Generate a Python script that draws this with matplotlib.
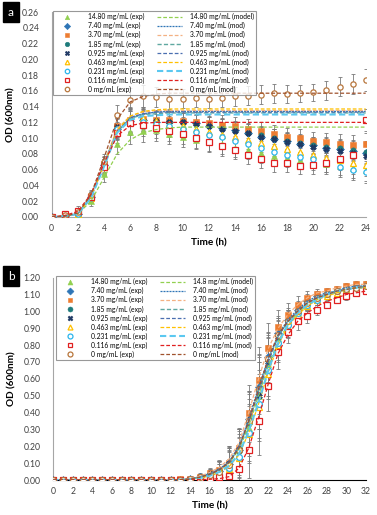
import matplotlib
matplotlib.use("Agg")
import matplotlib.pyplot as plt
import numpy as np

plt.rcParams['font.family'] = ['Lato', 'DejaVu Sans']

# ---------------- Panel a data (t = 0..24 h) ----------------
time_a = list(range(0, 25))
a_exp_1480 = [0.000,0.001,0.003,0.020,0.055,0.093,0.108,0.109,0.110,0.105,0.101,0.098,0.096,0.092,0.088,0.085,0.081,0.078,0.075,0.072,0.070,0.067,0.065,0.062,0.060]
a_exp_740  = [0.000,0.001,0.004,0.026,0.066,0.112,0.122,0.123,0.121,0.121,0.120,0.119,0.116,0.113,0.110,0.107,0.102,0.099,0.096,0.093,0.091,0.088,0.086,0.084,0.081]
a_exp_370  = [0.000,0.002,0.005,0.027,0.067,0.115,0.123,0.124,0.123,0.123,0.122,0.121,0.119,0.117,0.115,0.112,0.109,0.105,0.102,0.100,0.097,0.095,0.093,0.091,0.092]
a_exp_185  = [0.000,0.001,0.004,0.025,0.064,0.113,0.122,0.122,0.121,0.120,0.120,0.118,0.115,0.112,0.109,0.106,0.104,0.100,0.097,0.094,0.091,0.089,0.087,0.085,0.083]
a_exp_0925 = [0.000,0.001,0.004,0.026,0.066,0.114,0.123,0.123,0.122,0.121,0.120,0.118,0.115,0.112,0.109,0.106,0.102,0.099,0.095,0.092,0.089,0.086,0.084,0.081,0.077]
a_exp_0463 = [0.000,0.001,0.004,0.024,0.064,0.112,0.124,0.125,0.122,0.118,0.115,0.111,0.108,0.104,0.101,0.098,0.094,0.090,0.086,0.083,0.079,0.075,0.072,0.068,0.066]
a_exp_0231 = [0.000,0.001,0.004,0.024,0.063,0.111,0.121,0.120,0.118,0.115,0.112,0.108,0.104,0.101,0.097,0.093,0.088,0.083,0.079,0.076,0.073,0.069,0.063,0.060,0.057]
a_exp_0116 = [0.000,0.004,0.008,0.026,0.063,0.107,0.119,0.117,0.113,0.109,0.105,0.100,0.095,0.090,0.085,0.079,0.074,0.069,0.068,0.065,0.066,0.069,0.073,0.079,0.123]
a_exp_0    = [0.000,0.003,0.006,0.028,0.070,0.129,0.149,0.154,0.152,0.150,0.150,0.151,0.150,0.151,0.153,0.154,0.155,0.157,0.156,0.157,0.158,0.161,0.165,0.169,0.174]
a_err      = [0.002,0.004,0.006,0.006,0.010,0.013,0.015,0.014,0.013,0.013,0.012,0.012,0.012,0.012,0.012,0.012,0.012,0.012,0.011,0.011,0.011,0.012,0.012,0.013,0.014]

a_mod_1480 = [0.000,0.001,0.004,0.020,0.050,0.080,0.098,0.107,0.111,0.113,0.114,0.114,0.114,0.114,0.114,0.114,0.114,0.114,0.114,0.114,0.114,0.114,0.114,0.114,0.114]
a_mod_740  = [0.000,0.001,0.004,0.026,0.068,0.110,0.126,0.131,0.133,0.134,0.134,0.134,0.134,0.134,0.134,0.134,0.134,0.134,0.134,0.134,0.134,0.134,0.134,0.134,0.134]
a_mod_370  = [0.000,0.001,0.005,0.027,0.069,0.112,0.128,0.133,0.135,0.135,0.135,0.135,0.135,0.135,0.135,0.135,0.135,0.135,0.135,0.135,0.135,0.135,0.135,0.135,0.135]
a_mod_185  = [0.000,0.001,0.004,0.025,0.066,0.108,0.125,0.130,0.131,0.132,0.132,0.132,0.132,0.132,0.132,0.132,0.132,0.132,0.132,0.132,0.132,0.132,0.132,0.132,0.132]
a_mod_0925 = [0.000,0.001,0.004,0.026,0.067,0.109,0.126,0.131,0.133,0.133,0.133,0.133,0.133,0.133,0.133,0.133,0.133,0.133,0.133,0.133,0.133,0.133,0.133,0.133,0.133]
a_mod_0463 = [0.000,0.001,0.004,0.025,0.066,0.110,0.128,0.134,0.136,0.137,0.137,0.137,0.137,0.137,0.137,0.137,0.137,0.137,0.137,0.137,0.137,0.137,0.137,0.137,0.137]
a_mod_0231 = [0.000,0.001,0.004,0.024,0.064,0.107,0.123,0.128,0.129,0.130,0.130,0.130,0.130,0.130,0.130,0.130,0.130,0.130,0.130,0.130,0.130,0.130,0.130,0.130,0.130]
a_mod_0116 = [0.000,0.002,0.007,0.029,0.068,0.103,0.116,0.119,0.120,0.120,0.120,0.120,0.120,0.120,0.120,0.120,0.120,0.120,0.120,0.120,0.120,0.120,0.120,0.120,0.120]
a_mod_0    = [0.000,0.001,0.005,0.028,0.075,0.124,0.146,0.153,0.156,0.157,0.157,0.157,0.157,0.157,0.157,0.157,0.157,0.157,0.157,0.157,0.157,0.157,0.157,0.157,0.157]

# ---------------- Panel b data (t = 0..32 h) ----------------
time_b = list(range(0, 33))
b_exp_1480 = [0,0,0,0,0,0,0,0,0,0,0,0,0,0.002,0.005,0.015,0.028,0.045,0.080,0.150,0.310,0.500,0.690,0.840,0.930,0.990,1.040,1.070,1.100,1.110,1.130,1.140,1.140]
b_exp_740  = [0,0,0,0,0,0,0,0,0,0,0,0,0,0.002,0.006,0.018,0.035,0.055,0.095,0.180,0.360,0.550,0.730,0.870,0.950,1.010,1.060,1.090,1.110,1.120,1.140,1.150,1.150]
b_exp_370  = [0,0,0,0,0,0,0,0,0,0,0,0,0,0.003,0.008,0.020,0.040,0.060,0.100,0.190,0.395,0.590,0.780,0.910,0.980,1.040,1.080,1.100,1.120,1.130,1.150,1.160,1.160]
b_exp_185  = [0,0,0,0,0,0,0,0,0,0,0,0,0,0.002,0.005,0.016,0.030,0.050,0.090,0.170,0.340,0.530,0.710,0.860,0.940,1.000,1.050,1.080,1.100,1.120,1.130,1.140,1.150]
b_exp_0925 = [0,0,0,0,0,0,0,0,0,0,0,0,0,0.002,0.006,0.018,0.035,0.055,0.100,0.185,0.355,0.500,0.700,0.850,0.940,1.000,1.050,1.080,1.100,1.120,1.130,1.140,1.140]
b_exp_0463 = [0,0,0,0,0,0,0,0,0,0,0,0,0,0.001,0.004,0.012,0.025,0.035,0.065,0.130,0.270,0.430,0.630,0.800,0.910,0.980,1.030,1.070,1.090,1.110,1.130,1.140,1.140]
b_exp_0231 = [0,0,0,0,0,0,0,0,0,0,0,0,0,0.001,0.004,0.012,0.022,0.035,0.070,0.135,0.280,0.450,0.650,0.810,0.920,0.990,1.040,1.070,1.100,1.120,1.130,1.140,1.150]
b_exp_0116 = [0,0,0,0,0,0,0,0,0,0,0,0,0,0.000,0.002,0.004,0.008,0.015,0.025,0.068,0.180,0.350,0.557,0.760,0.880,0.940,0.970,1.010,1.040,1.070,1.090,1.110,1.120]
b_exp_0    = [0,0,0,0,0,0,0,0,0,0,0,0,0,0.002,0.005,0.016,0.030,0.050,0.090,0.180,0.350,0.540,0.720,0.860,0.940,1.000,1.050,1.080,1.100,1.120,1.130,1.140,1.150]
b_err      = [0.003,0.003,0.003,0.003,0.003,0.003,0.003,0.003,0.003,0.003,0.003,0.003,0.003,0.005,0.010,0.020,0.030,0.060,0.100,0.120,0.170,0.200,0.150,0.100,0.070,0.050,0.040,0.030,0.020,0.020,0.020,0.020,0.020]

b_mod_1480 = [0,0,0,0,0,0,0,0,0,0,0,0,0,0.002,0.006,0.015,0.030,0.055,0.100,0.180,0.320,0.500,0.680,0.820,0.920,0.990,1.040,1.070,1.100,1.110,1.130,1.140,1.140]
b_mod_740  = [0,0,0,0,0,0,0,0,0,0,0,0,0,0.002,0.007,0.018,0.038,0.065,0.110,0.200,0.360,0.550,0.720,0.860,0.950,1.010,1.060,1.090,1.110,1.120,1.140,1.150,1.150]
b_mod_370  = [0,0,0,0,0,0,0,0,0,0,0,0,0,0.003,0.009,0.022,0.045,0.075,0.125,0.220,0.400,0.600,0.780,0.900,0.980,1.040,1.080,1.110,1.120,1.140,1.150,1.160,1.160]
b_mod_185  = [0,0,0,0,0,0,0,0,0,0,0,0,0,0.002,0.006,0.016,0.033,0.060,0.105,0.190,0.340,0.530,0.710,0.850,0.940,1.000,1.050,1.080,1.100,1.120,1.130,1.140,1.150]
b_mod_0925 = [0,0,0,0,0,0,0,0,0,0,0,0,0,0.002,0.006,0.017,0.035,0.062,0.108,0.195,0.350,0.520,0.700,0.850,0.940,1.000,1.050,1.080,1.100,1.120,1.130,1.140,1.140]
b_mod_0463 = [0,0,0,0,0,0,0,0,0,0,0,0,0,0.001,0.004,0.011,0.024,0.045,0.080,0.150,0.280,0.450,0.640,0.800,0.910,0.980,1.030,1.070,1.090,1.110,1.130,1.140,1.140]
b_mod_0231 = [0,0,0,0,0,0,0,0,0,0,0,0,0,0.001,0.004,0.012,0.025,0.048,0.085,0.155,0.290,0.460,0.650,0.810,0.920,0.990,1.040,1.070,1.100,1.120,1.130,1.140,1.150]
b_mod_0116 = [0,0,0,0,0,0,0,0,0,0,0,0,0,0.000,0.001,0.002,0.004,0.008,0.020,0.070,0.190,0.370,0.570,0.750,0.860,0.940,0.990,1.030,1.060,1.080,1.100,1.110,1.120]
b_mod_0    = [0,0,0,0,0,0,0,0,0,0,0,0,0,0.002,0.006,0.016,0.033,0.060,0.105,0.190,0.350,0.540,0.720,0.860,0.940,1.000,1.050,1.080,1.100,1.120,1.130,1.140,1.150]

# ---------------- Labels / styles ----------------
exp_labels_a = ["14.80 mg/mL (exp)", "7.40 mg/mL (exp)", "3.70 mg/mL (exp)", "1.85 mg/mL (exp)",
                "0.925 mg/mL (exp)", "0.463 mg/mL (exp)", "0.231 mg/mL (exp)", "0.116 mg/mL (exp)", "0 mg/mL (exp)"]
mod_labels_a = ["14.80 mg/mL (model)", "7.40 mg/mL (mod)", "3.70 mg/mL (mod)", "1.85 mg/mL (mod)",
                "0.925 mg/mL (mod)", "0.463 mg/mL (mod)", "0.231 mg/mL (mod)", "0.116 mg/mL (mod)", "0 mg/mL (mod)"]
exp_labels_b = exp_labels_a
mod_labels_b = ["14.8 mg/mL (model)"] + mod_labels_a[1:]

marker_col = ["#92D050", "#2E75B6", "#ED7D31", "#1E7B7B", "#1F3864", "#FFC000", "#2BB5EC", "#E02020", "#B8763C"]
marker_sty = ["^", "D", "s", "o", "X", "^", "o", "s", "o"]
marker_fill = [True, True, True, True, True, False, False, False, False]
line_col = ["#92D050", "#2E75B6", "#F4B183", "#5FA8A0", "#4A6FB0", "#FFC000", "#5BC8F0", "#E02020", "#A0522D"]
line_dash = [(3, 1.6), (1.6, 0.8), (3, 1.6), (3, 1.6), (3, 1.6), (3, 1.6), (3, 1.6), (3, 1.6), (3, 1.6)]
line_w = [0.9, 0.9, 0.9, 1.0, 0.9, 0.9, 1.5, 0.9, 0.9]

fig = plt.figure(figsize=(3.77, 5.15), dpi=100)
ax_a = fig.add_axes([51.7/377, 1-217/515, (365.7-51.7)/377, (217-12)/515])
ax_b = fig.add_axes([53.3/377, 1-480/515, (366-53.3)/377, (480-277.6)/515])

tick_color = "#404040"


def draw(ax, t, exps, mods, err, exp_labels, mod_labels, ms):
    exp_handles = []
    for i, y in enumerate(exps):
        fc = marker_col[i] if marker_fill[i] else "white"
        ax.errorbar(t, y, yerr=err, fmt="none", ecolor="#7A7A7A", elinewidth=0.6,
                    capsize=1.4, capthick=0.6, zorder=2)
        h, = ax.plot(t, y, linestyle="none", marker=marker_sty[i], markersize=ms,
                     markerfacecolor=fc, markeredgecolor=marker_col[i],
                     markeredgewidth=0.9 if not marker_fill[i] else 0.4,
                     label=exp_labels[i], zorder=3)
        exp_handles.append(h)
    mod_handles = []
    for i, y in enumerate(mods):
        h, = ax.plot(t, y, color=line_col[i], linewidth=line_w[i], dashes=line_dash[i],
                     label=mod_labels[i], zorder=4)
        mod_handles.append(h)
    return exp_handles + mod_handles


exps_a = [a_exp_1480, a_exp_740, a_exp_370, a_exp_185, a_exp_0925, a_exp_0463, a_exp_0231, a_exp_0116, a_exp_0]
mods_a = [a_mod_1480, a_mod_740, a_mod_370, a_mod_185, a_mod_0925, a_mod_0463, a_mod_0231, a_mod_0116, a_mod_0]
exps_b = [b_exp_1480, b_exp_740, b_exp_370, b_exp_185, b_exp_0925, b_exp_0463, b_exp_0231, b_exp_0116, b_exp_0]
mods_b = [b_mod_1480, b_mod_740, b_mod_370, b_mod_185, b_mod_0925, b_mod_0463, b_mod_0231, b_mod_0116, b_mod_0]

ha = draw(ax_a, time_a, exps_a, mods_a, a_err, exp_labels_a, mod_labels_a, 3.8)
hb = draw(ax_b, time_b, exps_b, mods_b, b_err, exp_labels_b, mod_labels_b, 4.2)

for ax, xmax, ymax, ystep, bottom_col in [(ax_a, 24, 0.26, 0.02, "#A6A6A6"), (ax_b, 32, 1.20, 0.10, "#000000")]:
    ax.set_xlim(0, xmax)
    ax.set_ylim(0, ymax)
    ax.set_xticks(np.arange(0, xmax + 1, 2))
    ax.set_yticks(np.arange(0, ymax + 1e-9, ystep))
    ax.yaxis.set_major_formatter(matplotlib.ticker.FormatStrFormatter("%.2f"))
    ax.tick_params(axis="both", length=0, labelsize=6.2, colors=tick_color, pad=5)
    ax.tick_params(axis="y", pad=9)
    for s in ["top", "right"]:
        ax.spines[s].set_visible(False)
    ax.spines["left"].set_color("#A6A6A6")
    ax.spines["left"].set_linewidth(0.8)
    ax.spines["bottom"].set_color(bottom_col)
    ax.spines["bottom"].set_linewidth(0.8)
    ax.set_xlabel("Time (h)", fontsize=7.2, fontweight="bold", color="#000000", labelpad=4)
    ax.set_ylabel("OD (600nm)", fontsize=7.2, fontweight="bold", color="#000000", labelpad=5)
    ax.patch.set_alpha(0)

leg_kw = dict(ncol=2, fontsize=4.9, frameon=True, fancybox=False, borderaxespad=0,
              handlelength=3.6, handletextpad=1.2, columnspacing=1.9, labelspacing=0.28,
              borderpad=0.3, loc="upper left", markerscale=0.85)
la = ax_a.legend(handles=ha, bbox_to_anchor=(53/377, 1-11/515), bbox_transform=fig.transFigure, **leg_kw)
lb = ax_b.legend(handles=hb, bbox_to_anchor=(56/377, 1-276/515), bbox_transform=fig.transFigure, **leg_kw)
for lg in (la, lb):
    lg.get_frame().set_edgecolor("#7F7F7F")
    lg.get_frame().set_linewidth(0.8)
    lg.set_zorder(10)

fig.text(11/377, 1-12/515, "a", fontsize=8.5, color="white", ha="center", va="center",
         bbox=dict(boxstyle="square,pad=0.4", facecolor="black", edgecolor="black"))
fig.text(11/377, 1-276/515, "b", fontsize=8.5, color="white", ha="center", va="center",
         bbox=dict(boxstyle="square,pad=0.4", facecolor="black", edgecolor="black"))

fig.savefig("out.png", dpi=100)
